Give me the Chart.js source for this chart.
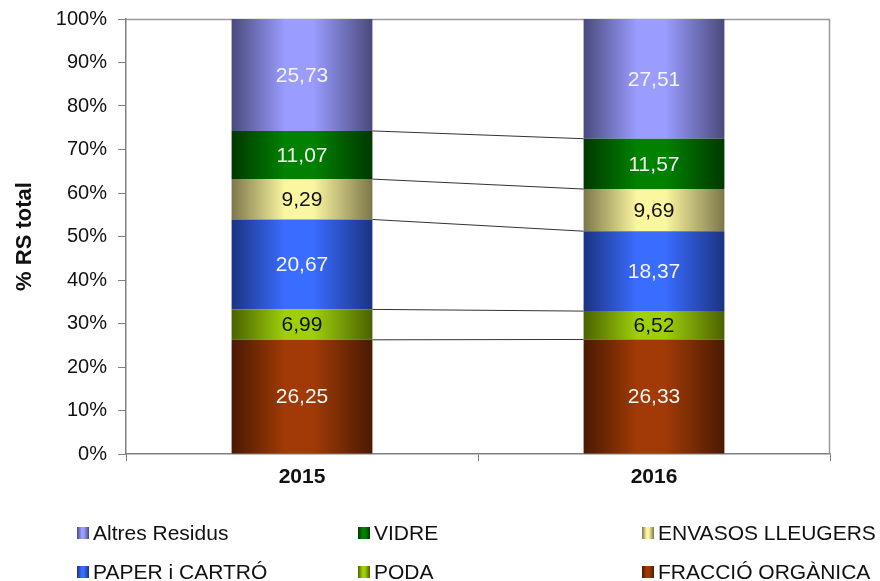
<!DOCTYPE html>
<html>
<head>
<meta charset="utf-8">
<script src="https://cdn.jsdelivr.net/npm/chart.js@4/dist/chart.umd.min.js"></script>
<style>
html,body{margin:0;padding:0;background:#fff;}
#wrap{position:relative;width:880px;height:581px;}
</style>
</head>
<body>
<div id="wrap"><canvas id="c" width="880" height="581"></canvas></div>
<script>
// ---- data ----
const categories = ['2015', '2016'];
const seriesNames = ['FRACCIÓ ORGÀNICA', 'PODA', 'PAPER i CARTRÓ', 'ENVASOS LLEUGERS', 'VIDRE', 'Altres Residus'];
const fraccioOrganica = [26.25, 26.33];
const poda = [6.99, 6.52];
const paperCartro = [20.67, 18.37];
const envasosLleugers = [9.29, 9.69];
const vidre = [11.07, 11.57];
const altresResidus = [25.73, 27.51];
const yTickValues = [0, 10, 20, 30, 40, 50, 60, 70, 80, 90, 100];

// ---- styles ----
const lightColors = ['#a13a06', '#9fcf0a', '#3a6cff', '#fbf6a0', '#008200', '#9a9cff'];
const darkColors  = ['#4a1a02', '#4a6200', '#1b3383', '#7c774a', '#003800', '#4a4a7e'];
const labelColors = ['#f4f4f4', '#111111', '#f4f4f4', '#111111', '#f4f4f4', '#f4f4f4'];
const BAR_PCT = 0.4;
const FONT = '"Liberation Sans", Arial, sans-serif';

function gradientFill(ctx2d, x0, x1, i) {
  const g = ctx2d.createLinearGradient(x0, 0, x1, 0);
  g.addColorStop(0, darkColors[i]);
  g.addColorStop(0.38, lightColors[i]);
  g.addColorStop(0.58, lightColors[i]);
  g.addColorStop(1, darkColors[i]);
  return g;
}

function makeFill(di) {
  return function (ctx) {
    const chart = ctx.chart;
    const xs = chart.scales && chart.scales.x;
    if (!chart.chartArea || !xs || ctx.dataIndex === undefined) return lightColors[di];
    const cx = xs.getPixelForValue(ctx.dataIndex);
    const half = xs.width / categories.length * BAR_PCT / 2;
    return gradientFill(chart.ctx, cx - half, cx + half, di);
  };
}

const seriesData = [fraccioOrganica, poda, paperCartro, envasosLleugers, vidre, altresResidus];
const datasets = seriesData.map((d, i) => ({
  label: seriesNames[i],
  data: d,
  backgroundColor: makeFill(i),
  borderWidth: 0,
  barPercentage: BAR_PCT,
  categoryPercentage: 1.0
}));

// plot border (top + right)
const borderPlugin = {
  id: 'plotBorder',
  beforeDatasetsDraw(chart) {
    const {ctx, chartArea: a} = chart;
    ctx.save();
    ctx.strokeStyle = '#9a9a9a';
    ctx.lineWidth = 1.5;
    ctx.beginPath();
    ctx.moveTo(a.left, a.top + 0.5);
    ctx.lineTo(a.right - 0.5, a.top + 0.5);
    ctx.lineTo(a.right - 0.5, a.bottom);
    ctx.stroke();
    ctx.restore();
  }
};

// series lines connecting stacked boundaries + data labels
const overlayPlugin = {
  id: 'overlay',
  afterDatasetsDraw(chart) {
    const {ctx} = chart;
    const n = chart.data.datasets.length;
    ctx.save();
    ctx.strokeStyle = '#333';
    ctx.lineWidth = 1;
    for (let di = 0; di < n - 1; di++) {
      const m = chart.getDatasetMeta(di);
      for (let k = 0; k < categories.length - 1; k++) {
        const b0 = m.data[k], b1 = m.data[k + 1];
        ctx.beginPath();
        ctx.moveTo(b0.x + b0.width / 2, b0.y);
        ctx.lineTo(b1.x - b1.width / 2, b1.y);
        ctx.stroke();
      }
    }
    ctx.restore();
    ctx.save();
    ctx.font = '21px ' + FONT;
    ctx.textAlign = 'center';
    ctx.textBaseline = 'middle';
    for (let di = 0; di < n; di++) {
      const m = chart.getDatasetMeta(di);
      m.data.forEach((bar, k) => {
        const v = chart.data.datasets[di].data[k];
        ctx.fillStyle = labelColors[di];
        ctx.fillText(v.toFixed(2).replace('.', ','), bar.x, (bar.y + bar.base) / 2 + 1);
      });
    }
    ctx.restore();
  }
};

// legend in 3 columns x 2 rows
const legendOrder = [5, 4, 3, 2, 1, 0];
const legendPlugin = {
  id: 'gridLegend',
  afterDraw(chart) {
    const {ctx} = chart;
    const colX = [77, 358, 642];
    const rowY = [533, 572];
    ctx.save();
    ctx.font = '21px ' + FONT;
    ctx.textBaseline = 'middle';
    ctx.textAlign = 'left';
    legendOrder.forEach((di, j) => {
      const x = colX[j % 3], y = rowY[Math.floor(j / 3)];
      ctx.fillStyle = gradientFill(ctx, x, x + 12, di);
      ctx.fillRect(x, y - 6, 12, 12);
      ctx.fillStyle = '#111';
      ctx.fillText(seriesNames[di], x + 16, y + 1);
    });
    ctx.restore();
  }
};

new Chart(document.getElementById('c'), {
  type: 'bar',
  data: {labels: categories, datasets},
  options: {
    responsive: false,
    animation: false,
    devicePixelRatio: 1,
    layout: {padding: {top: 19, right: 50, left: 0, bottom: 0}},
    plugins: {legend: {display: false}, tooltip: {enabled: false}},
    scales: {
      x: {
        stacked: true,
        offset: true,
        grid: {display: true, drawOnChartArea: false, drawTicks: true, tickLength: 7, tickColor: '#808080', offset: true},
        border: {display: true, color: '#808080', width: 1.5},
        ticks: {color: '#111', font: {family: FONT, size: 21, weight: 'bold'}, padding: 4},
        afterFit(s) { s.height = 127; }
      },
      y: {
        stacked: true,
        min: 0,
        max: 100,
        afterBuildTicks(s) { s.ticks = yTickValues.map(v => ({value: v})); },
        grid: {display: true, drawOnChartArea: false, drawTicks: true, tickLength: 8, tickColor: '#808080'},
        border: {display: true, color: '#808080', width: 1.5},
        ticks: {color: '#111', font: {family: FONT, size: 20, lineHeight: 0.8}, padding: 11, callback: v => v + '%'},
        title: {display: true, text: '% RS total', color: '#111', font: {family: FONT, size: 22, weight: 'bold'}, padding: {top: 12, bottom: 0}},
        afterFit(s) { s.width = 126; }
      }
    }
  },
  plugins: [borderPlugin, overlayPlugin, legendPlugin]
});
</script>
</body>
</html>
